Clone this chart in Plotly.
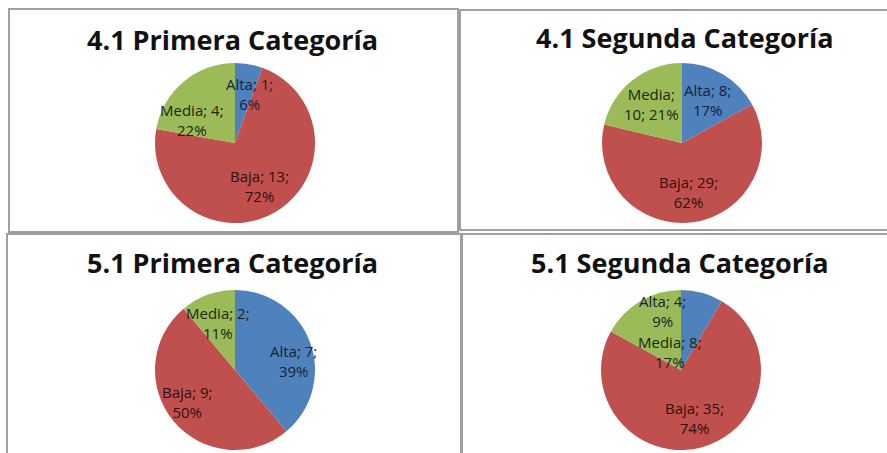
import math
import plotly.graph_objects as go

W, H = 887, 453

# ---- data ----
categories = ["Alta", "Baja", "Media"]
titles = ["4.1 Primera Categoría", "4.1 Segunda Categoría",
          "5.1 Primera Categoría", "5.1 Segunda Categoría"]
primera_41 = [1, 13, 4]
segunda_41 = [8, 29, 10]
primera_51 = [7, 9, 2]
segunda_51 = [4, 35, 8]
series = [primera_41, segunda_41, primera_51, segunda_51]

colors = ["#4F81BD", "#C0504D", "#9BBB59"]
text_colors = ["#16223a", "#2e1010", "#1c2610"]

# label line-break style per panel (Excel wraps differently)
wrap_second = {(1, 2)}  # (panel, slice) -> "Label;<br>value; pct"

# panel layout in pixels
pie_centers = [(235, 143), (682, 143), (235, 370), (681, 370)]
title_centers = [(232, 39), (685, 38), (232, 262), (680, 262)]
D = 160
R = D / 2
LABEL_R = 0.62
# small per-label nudges (px) to mimic Excel's label placement
nudges = {
    (0, 0): (6, 0), (0, 2): (-11, 15),
    (3, 0): (-32, -11), (3, 2): (14, 25),
    (2, 0): (12, 8), (2, 1): (-10, 0),
}


def px_x(x):
    return x / W


def px_y(y):
    return 1 - y / H


fig = go.Figure()
for i, vals in enumerate(series):
    cx, cy = pie_centers[i]
    fig.add_trace(go.Pie(
        labels=categories,
        values=vals,
        sort=False,
        direction="clockwise",
        rotation=0,
        marker=dict(colors=colors, line=dict(width=0)),
        textinfo="none",
        hoverinfo="label+value+percent",
        showlegend=False,
        domain=dict(x=[px_x(cx - R), px_x(cx + R)],
                    y=[px_y(cy + R), px_y(cy - R)]),
    ))
    # data labels placed at each slice's mid-angle
    total = sum(vals)
    start = 0.0
    for j, v in enumerate(vals):
        frac = v / total
        mid = (start + frac / 2) * 2 * math.pi
        start += frac
        lx = cx + LABEL_R * R * math.sin(mid)
        ly = cy - LABEL_R * R * math.cos(mid)
        dx, dy = nudges.get((i, j), (0, 0))
        pct = f"{round(frac * 100)}%"
        if (i, j) in wrap_second:
            txt = f"{categories[j]};<br>{v}; {pct}"
        else:
            txt = f"{categories[j]}; {v};<br>{pct}"
        fig.add_annotation(
            text=txt, x=px_x(lx + dx), y=px_y(ly + dy),
            xref="paper", yref="paper", xanchor="center", yanchor="middle",
            showarrow=False, align="center",
            font=dict(family="Open Sans", size=15, color=text_colors[j]),
        )
    tx, ty = title_centers[i]
    fig.add_annotation(
        text="<b>" + titles[i] + "</b>",
        x=px_x(tx), y=px_y(ty), xref="paper", yref="paper",
        xanchor="center", yanchor="middle", showarrow=False,
        font=dict(family="Open Sans", size=27, color="#111111"),
    )

# panel borders
rects = [(9, 9, 458, 232), (460, 10, 892, 230), (7, 234, 461, 460), (462, 234, 892, 460)]
for x0, y0, x1, y1 in rects:
    fig.add_shape(type="rect", xref="paper", yref="paper",
                  x0=px_x(x0), x1=px_x(x1), y0=px_y(y1), y1=px_y(y0),
                  line=dict(color="#a0a0a0", width=2), fillcolor="rgba(0,0,0,0)")

fig.update_layout(
    width=W, height=H,
    margin=dict(l=0, r=0, t=0, b=0),
    paper_bgcolor="white", plot_bgcolor="white",
)

fig.write_html("out.html")
